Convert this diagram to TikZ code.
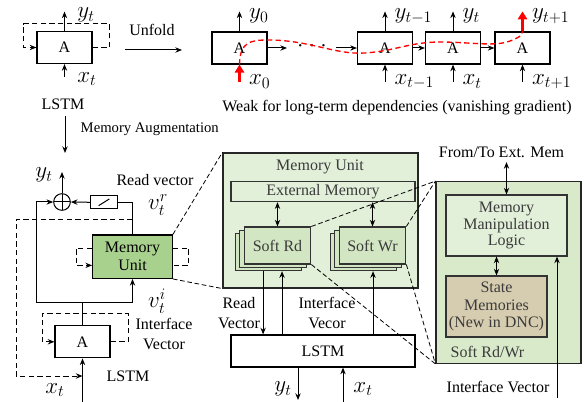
\documentclass[tikz,border=0pt]{standalone}
\usepackage{fontspec}
\setmainfont{Liberation Serif}
\usetikzlibrary{positioning, arrows.meta}

\definecolor{mugreen}{HTML}{A9D18E}
\definecolor{palegreen}{HTML}{E2EFD9}
\definecolor{softgreen}{HTML}{D3E6C3}
\definecolor{rwgreen}{HTML}{D9EACB}
\definecolor{statetan}{HTML}{D6CCB0}
\definecolor{inktext}{HTML}{3B3B3B}

\tikzset{
  cell/.style={draw, line width=0.9pt, fill=white, minimum width=41.25pt, minimum height=24pt, inner sep=0pt},
  wire/.style={line width=0.75pt},
  loopline/.style={wire, dash pattern=on 4pt off 2.5pt},
  zoomline/.style={line width=0.6pt, dash pattern=on 3.5pt off 2pt},
  redarrow/.style={red, line width=2.2pt, -{Triangle[length=6pt,width=7pt]}},
  sym/.style={font=\fontsize{16.5}{16.5}\selectfont, inner sep=0pt},
  twoline/.style={align=center, font=\fontsize{12}{14.5}\selectfont},
  panel/.style={draw=black!80, line width=0.8pt, fill=palegreen, text=inktext, inner sep=0pt, align=center},
  softbox/.style={panel, fill=softgreen, minimum width=50pt, minimum height=27.75pt},
  bigbox/.style={draw=black!85, line width=0.9pt, fill=palegreen, inner sep=0pt},
}

\begin{document}
\begin{tikzpicture}[x=0.75pt, y=-0.75pt, >={Stealth[length=5pt,width=4pt]}, font=\fontsize{12}{13}\selectfont]
\useasboundingbox (0,0) rectangle (584,402);

% folded LSTM cell
\node[cell] (a) at (64.5,47.5) {A};
\coordinate (a-top) at ([yshift=14.5pt]a.north);
\coordinate (a-bot) at ([yshift=-9.75pt]a.south);
\draw[wire,->] (a.north) -- (a-top);
\draw[wire,->] (a-bot) -- (a.south);
\node[sym, anchor=west] at (77,15) {$y_t$};
\node[sym, anchor=west] at (77,79) {$x_t$};
\draw[loopline,->] (a.east) -- ++(17,0) |- ++(-86,-23.5) |- (a.west);
\node (lstm-a) at (63,104) {LSTM};

\coordinate (u-in) at (125,50);
\coordinate (u-out) at (182,50);
\draw[wire,->] (u-in) -- (u-out);
\node at (152,30) {Unfold};

\coordinate (m-in) at (65,116);
\coordinate (m-out) at (65,153);
\draw[wire,->] (m-in) -- (m-out);
\node[anchor=west, font=\fontsize{11}{12}\selectfont] at (76,129) {Memory Augmentation};

% unrolled chain
\node[cell] (a0) at (239.5,48) {A};
\node[cell] (a1) at (385,48) {A};
\node[cell] (a2) at (453,48) {A};
\node[cell] (a3) at (522.5,48) {A};
\foreach \c in {a0,a1,a2,a3} {
  \coordinate (\c-top) at ([yshift=15pt]\c.north);
  \coordinate (\c-bot) at ([yshift=-12.75pt]\c.south);
}
\foreach \c in {a0,a1,a2}
  \draw[wire,->] (\c.north) -- (\c-top);
\foreach \c in {a1,a2,a3}
  \draw[wire,->] (\c-bot) -- (\c.south);
\foreach \c/\s in {a0/0,a1/{t-1},a2/t,a3/{t+1}} {
  \node[sym, anchor=west] (\c-y) at ([xshift=7pt,yshift=-3.5pt]\c-top) {$y_{\s}$};
  \node[sym, anchor=west] (\c-x) at ([xshift=7pt]\c-bot) {$x_{\s}$};
}
\coordinate (d-in) at (287,48);
\coordinate (d-out) at (336,48);
\draw[wire,->] (a0.east) -- (d-in);
\node[font=\fontsize{16}{16}\selectfont] (dots) at (312,46) {$\cdot$\hspace{4pt}$\cdot$\hspace{4pt}$\cdot$};
\draw[wire,->] (d-out) -- (a1.west);
\draw[wire,->] (a1) -- (a2);
\draw[wire,->] (a2) -- (a3);
\draw[red, line width=1pt, dash pattern=on 4pt off 2.5pt] (a0.south)
  .. controls (240,42) and (250,40) .. (268,40)
  .. controls (310,40) and (335,55) .. (365,53)
  .. controls (395,51) and (410,42) .. (440,42)
  .. controls (470,42) and (495,47) .. (510,41)
  .. controls (518,38) and (522,36) .. (a3.north);
\draw[redarrow] (a0-bot) -- (a0.south);
\draw[redarrow] (a3.north) -- (a3-top);
\node (weak) at (397,108) {Weak for long-term dependencies (vanishing gradient)};

% memory augmented cell
\node[draw, circle, wire, minimum size=12.5pt, inner sep=0pt,
  path picture={\draw[wire] (path picture bounding box.north) -- (path picture bounding box.south)
    (path picture bounding box.west) -- (path picture bounding box.east);}] (sum) at (62,202) {};
\coordinate (sum-top) at (62,172);
\draw[wire,->] (sum.north) -- (sum-top);
\node[sym] at (44,175) {$y_t$};
\node[draw, wire, minimum width=20pt, minimum height=9.5pt, inner sep=0pt,
  path picture={\draw[wire] ([shift={(-4pt,-2.5pt)}]path picture bounding box.center)
    -- ([shift={(4pt,2.5pt)}]path picture bounding box.center);}] (dly) at (104,202.3) {};
\node[draw, line width=0.9pt, fill=mugreen, minimum width=59.7pt, minimum height=32.5pt,
  inner sep=0pt, align=center, font=\fontsize{12}{13.5}\selectfont] (mu) at (132.5,256.7) {Memory\\Unit};
\draw[wire] (mu.north) |- (dly.east);
\draw[wire,->] (dly.west) -- (sum.east);
\node[cell] (b) at (82.5,341.8) {A};
\coordinate (jn) at (82.5,302);
\coordinate (lft) at (36,302);
\draw[wire] (b.north) -- (jn);
\draw[wire,->] (jn) -- (lft) |- (sum.west);
\draw[wire,->] (jn) -| (mu.south);
\coordinate (b-bot) at (82.5,402);
\draw[wire,->] (b-bot) -- (b.south);
\draw[loopline,->] (b.east) -- ++(17.5,0) |- ++(-86,-28.5) |- (b.west);
\draw[loopline] ([yshift=6.5pt]mu.east) -- ++(16,0) |- ([yshift=-6.5pt]mu.east);
\draw[loopline,->] ([yshift=6.5pt]mu.west) -- ++(-16,0) |- ([yshift=-6.5pt]mu.west);
\coordinate (tap) at (132.5,219.3);
\coordinate (xin) at (82.5,376);
\draw[loopline,->] (tap) -- (16,219.3) |- (xin);
\node at (155,180) {Read vector};
\node[sym] at (158,205) {$v_t^r$};
\node[sym] at (157,301) {$v_t^i$};
\node[twoline] at (164,334) {Interface\\Vector};
\node at (128,376) {LSTM};
\node[sym] at (55,390) {$x_t$};

% memory unit detail
\node[bigbox, minimum width=146.25pt, minimum height=101.25pt] (mbig) at (320.5,220.5) {};
\node[text=inktext] (mtitle) at (320,167) {Memory Unit};
\node[panel, minimum width=138pt, minimum height=15pt] (ext) at (323,191.7) {External Memory};
\coordinate (rdpos) at (277.5,245.5);
\coordinate (wrpos) at (372.5,245.5);
\foreach \s in {2,1} {
  \node[softbox] (rd\s) at ([xshift={-3.4pt*\s}, yshift={-2.5pt*\s}]rdpos) {};
  \node[softbox] (wr\s) at ([xshift={-3.4pt*\s}, yshift={-2.5pt*\s}]wrpos) {};
}
\node[softbox] (rd) at (rdpos) {Soft Rd};
\node[softbox] (wr) at (wrpos) {Soft Wr};
\draw[wire,<->] (rd.north) -- (rd.north |- ext.south);
\draw[wire,<->] (wr.north) -- (wr.north |- ext.south);
\node[cell, minimum width=138pt, minimum height=24pt] (lstm) at (323,351) {LSTM};
\coordinate (rdout) at ([xshift=-4pt]rd2.south);
\coordinate (rdin) at ([xshift=10.2pt]rd2.south);
\coordinate (wrin) at ([xshift=7.2pt]wr2.south);
\draw[wire,->] (rdout) -- (rdout |- lstm.north);
\draw[wire,->] (rdin |- lstm.north) -- (rdin);
\draw[wire,->] (wrin |- lstm.north) -- (wrin);
\node[twoline, font=\fontsize{12}{15}\selectfont] at (239,313) {Read\\Vector};
\node[twoline, font=\fontsize{12}{15}\selectfont] at (327,313) {Interface\\Vecor};
\coordinate (lstm-y) at (298,400);
\coordinate (lstm-x) at (343,402);
\draw[wire,->] (lstm.south -| lstm-y) -- (lstm-y);
\draw[wire,->] (lstm-x) -- (lstm.south -| lstm-x);
\node[sym] at (283,389) {$y_t$};
\node[sym] at (363,389) {$x_t$};

% soft read / write detail
\node[bigbox, fill=rwgreen, minimum width=108.75pt, minimum height=136.2pt] (srw) at (508.5,272.5) {};
\node[panel, minimum width=90.75pt, minimum height=45.75pt, font=\fontsize{12}{12.5}\selectfont] (mml) at (506.5,225.5) {Memory\\Manipulation\\Logic};
\node[panel, fill=statetan, minimum width=75.75pt, minimum height=45.75pt, font=\fontsize{12}{13}\selectfont] (stm) at (496.5,306.5) {State\\Memories\\(New in DNC)};
\node[anchor=west, text=inktext] at (446,352) {Soft Rd/Wr};
\node (ftm) at (501.5,152) {From/To Ext. Mem};
\draw[wire,<->] (ftm.south -| mml.north) -- (mml.north);
\draw[wire,<->] (stm.north) -- (stm.north |- mml.south);
\node (ivlbl) at (498,387) {Interface Vector};
\coordinate (iv) at (557,398);
\draw[wire,->] (iv) -- (iv |- mml.south);

% zoom lines
\draw[zoomline] (mu.north east) -- (mbig.north west);
\draw[zoomline] (mu.south east) -- (mbig.south west);
\foreach \s in {rd,wr} {
  \draw[zoomline] (\s.north east) -- (srw.north west);
  \draw[zoomline] (\s.south east) -- (srw.south west);
}
\end{tikzpicture}
\end{document}
